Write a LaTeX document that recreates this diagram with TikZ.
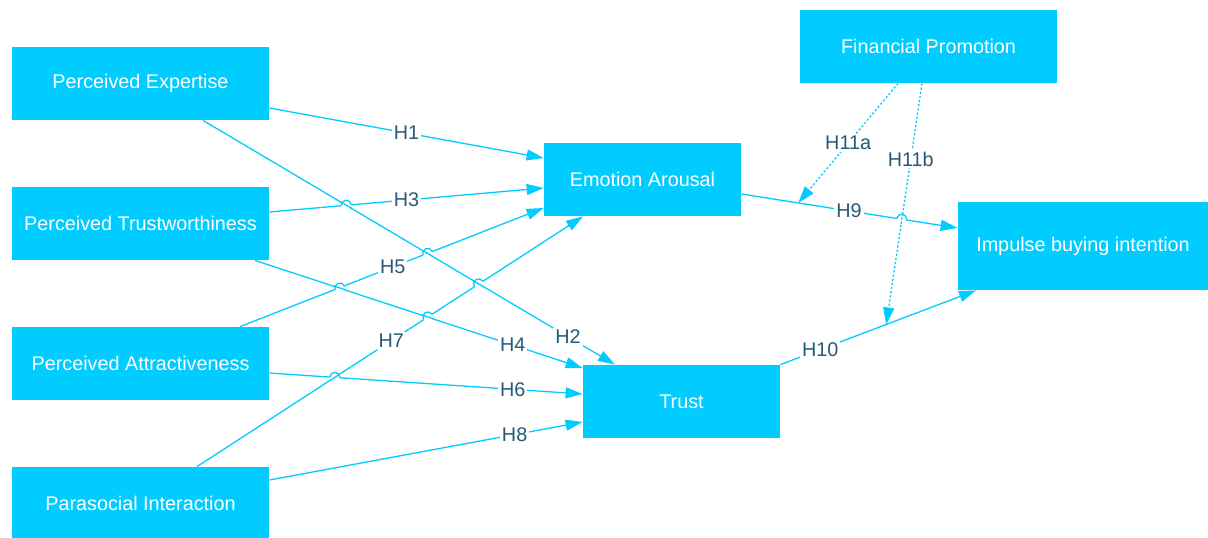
\documentclass[tikz,border=0pt]{standalone}
\usepackage{fontspec}
\setmainfont{Liberation Sans}
\usetikzlibrary{arrows.meta,calc}
\definecolor{boxcyan}{HTML}{00CCFF}
\definecolor{labteal}{HTML}{265A78}
% small hop of one line over another: point, angle of hopping line, angle of crossed line, style of crossed line
\newcommand{\hop}[4]{%
  \fill[white] #1 circle (2.6pt);
  \draw[boxcyan,line width=0.65pt,#4] #1 ++(#3:3pt) -- ++(#3+180:6pt);
  \draw[boxcyan,line width=0.65pt] #1 ++(#2+180:2.5pt) arc[start angle=#2+180,delta angle=-180,radius=2.5pt];}
\begin{document}
\begin{tikzpicture}[x=0.5pt,y=-0.5pt,font=\fontsize{9.9}{11}\selectfont, line join=round,
	box/.style={fill=boxcyan,text=white,minimum width=128.5pt,minimum height=36.5pt,inner sep=0pt},
	edge/.style={draw=boxcyan,line width=0.65pt,-{Triangle[length=8.5pt,width=5.5pt]}},
	dotedge/.style={edge,dash pattern=on 1.1pt off 1pt},
	lab/.style={fill=white,text=labteal,inner sep=1pt}]
	\useasboundingbox (0,0) rectangle (1208,537);
	\node[box] (pe) at (140.5,83.5) {Perceived Expertise};
	\node[box] (pt) at (140.5,223.5) {Perceived Trustworthiness};
	\node[box] (pa) at (140.5,363.5) {Perceived Attractiveness};
	\node[box] (pi) at (140.5,503.5) {Parasocial Interaction};
	\node[box,minimum width=98.5pt] (ea) at (642.5,179.5) {Emotion Arousal};
	\node[box,minimum width=98.5pt] (tr) at (681.5,401.5) {Trust};
	\node[box] (fp) at (928.5,46.5) {Financial Promotion};
	\node[box,minimum width=125pt,minimum height=44pt] (ibi) at (1083,246) {Impulse buying intention};
	% hypotheses
	\draw[edge] ($(pe.east)+(0,24.5)$) -- node[lab,pos=0.5] {H1} ($(ea.west)+(0,-21.5)$);
	\draw[edge] ($(pe.south)+(62.5,0)$) -- node[lab,pos=0.886] {H2} ($(tr.north)+(-66.5,0)$);
	\draw[edge] ($(pt.east)+(0,-11.5)$) -- node[lab,pos=0.5] {H3} ($(ea.west)+(0,8.5)$);
	\draw[edge] ($(pt.south)+(114.5,0)$) -- node[lab,pos=0.787] {H4} ($(tr.west)+(0,-33.5)$);
	\draw[edge] ($(pa.north)+(99.5,0)$) -- node[lab,pos=0.503] {H5} ($(ea.west)+(0,28.5)$);
	\draw[edge] ($(pi.north)+(56.5,0)$) -- node[lab,pos=0.503] {H7} ($(ea.south)+(-59.5,0)$);
	\draw[edge] ($(pa.east)+(0,9.5)$) -- node[lab,pos=0.777] {H6} ($(tr.west)+(0,-7.5)$);
	\draw[edge] ($(pi.east)+(0,-23.5)$) -- node[lab,pos=0.783] {H8} ($(tr.west)+(0,20.5)$);
	\draw[edge] ($(ea.east)+(0,14.5)$) -- node[lab,pos=0.498] {H9} ($(ibi.west)+(0,-18)$);
	\draw[edge] (tr.north east) -- node[lab,pos=0.204] {H10} ($(ibi.south)+(-107,0)$);
	\coordinate (h9mid) at ($($(ea.east)+(0,14.5)$)!0.263!($(ibi.west)+(0,-18)$)$);
	\coordinate (h10mid) at ($(tr.north east)!0.541!($(ibi.south)+(-107,0)$)$);
	\draw[dotedge] ($(fp.south)+(-30.5,0)$) -- node[lab,pos=0.5] {H11a} (h9mid);
	\draw[dotedge] ($(fp.south)+(-6.5,0)$) -- node[lab,pos=0.314] {H11b} (h10mid);
	% line hops
	\hop{(346.3,205.2)}{5}{-30.7}{}
	\hop{(427.6,253.4)}{21.4}{-30.7}{}
	\hop{(339.8,287.9)}{21.4}{-18.2}{}
	\hop{(478.6,283.9)}{33}{-30.7}{}
	\hop{(427.8,316.9)}{33}{-18.2}{}
	\hop{(334.8,377.4)}{-3.8}{33}{}
	\hop{(901.7,219.2)}{-8.9}{81.5}{dash pattern=on 1.1pt off 1pt}
\end{tikzpicture}
\end{document}
